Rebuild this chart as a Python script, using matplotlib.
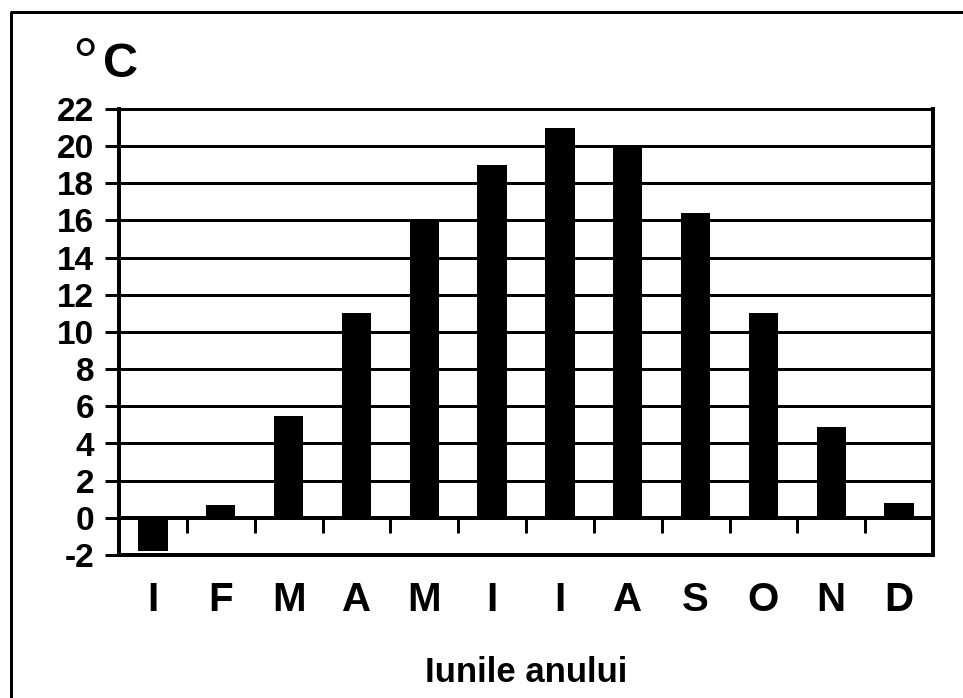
import matplotlib
matplotlib.use("Agg")
import matplotlib.pyplot as plt
from matplotlib.lines import Line2D
import numpy as np

months = ["I", "F", "M", "A", "M", "I", "I", "A", "S", "O", "N", "D"]
temps = [-1.8, 0.7, 5.5, 11.0, 16.0, 19.0, 21.0, 20.0, 16.4, 11.0, 4.9, 0.8]
yticks = list(range(-2, 23, 2))
unit_deg = "°"
unit_c = "C"
x_title = "Iunile anului"

plt.rcParams['font.family'] = ['Liberation Sans', 'DejaVu Sans']

W, H = 963, 698
fig = plt.figure(figsize=(W / 100, H / 100), dpi=100)
ax = fig.add_axes([119 / W, 1 - 555 / H, (933 - 119) / W, (555 - 109) / H])

px = 72 / 100  # points per pixel

x = np.arange(len(months)) + 0.5
ax.bar(x, temps, width=0.43, color="black", zorder=3)

ax.set_xlim(0, len(months))
ax.set_ylim(-2, 22)

# horizontal grid lines
ax.set_yticks(yticks)
ax.set_yticklabels([str(v) for v in yticks], fontsize=24, fontweight="bold")
ax.yaxis.grid(True, color="black", linewidth=3 * px, zorder=1)
ax.set_axisbelow(True)
ax.tick_params(axis="y", direction="out", length=10, width=3 * px, pad=8)

# zero line with hanging separators
ax.axhline(0, color="black", linewidth=4 * px, zorder=2)
ax.vlines(np.arange(1, len(months)), -0.8, 0, color="black", linewidth=3 * px, zorder=2)

ax.set_xticks(x)
ax.set_xticklabels(months, fontsize=29, fontweight="bold")
ax.tick_params(axis="x", length=0, pad=19)

for s in ax.spines.values():
    s.set_linewidth(4 * px)
    s.set_color("black")
ax.spines["top"].set_linewidth(3 * px)

fig.text(526 / W, 1 - 682 / H, x_title, ha="center", va="baseline",
         fontsize=25, fontweight="bold")
fig.text(72 / W, 1 - 83 / H, unit_deg, ha="left", va="baseline",
         fontsize=46, fontweight="normal")
fig.text(103 / W, 1 - 77 / H, unit_c, ha="left", va="baseline",
         fontsize=35, fontweight="bold")

# outer frame (left and top edges visible)
fig.add_artist(Line2D([10.5 / W, 10.5 / W, 1.0], [0.0, 1 - 11.5 / H, 1 - 11.5 / H],
                      transform=fig.transFigure, color="black", linewidth=3 * px))

fig.savefig("out.png", dpi=100)
